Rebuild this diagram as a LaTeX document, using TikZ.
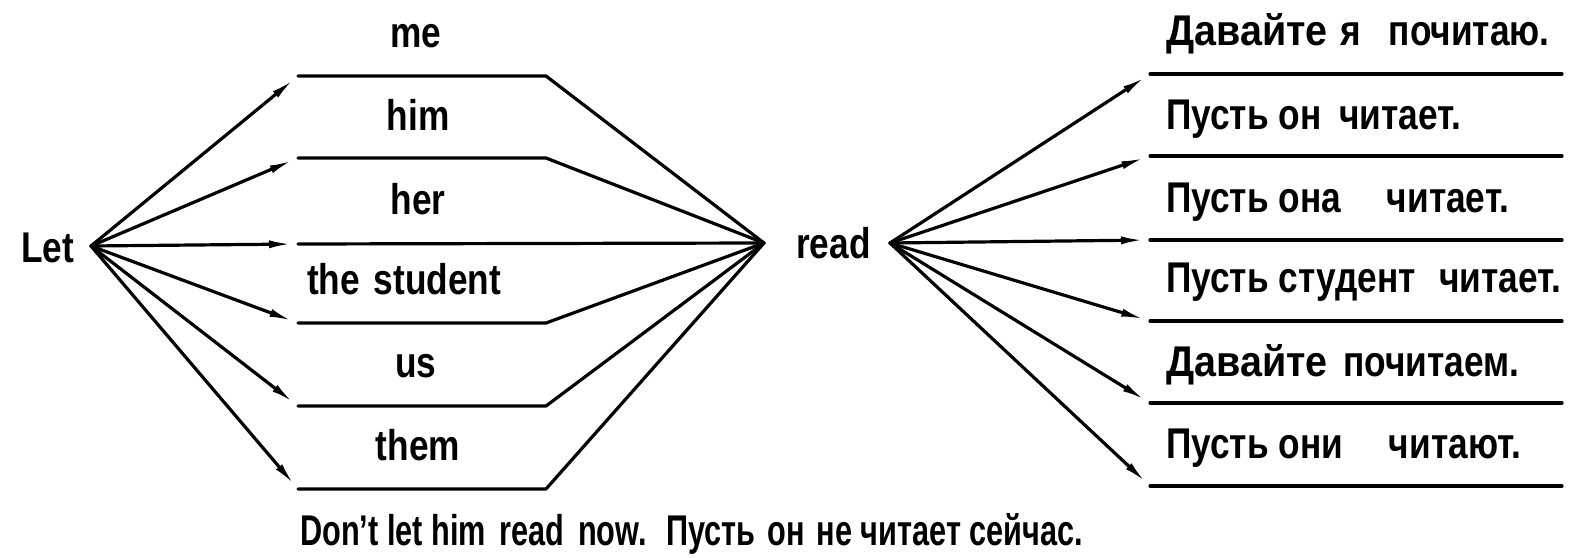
\documentclass[tikz,border=0pt]{standalone}
\usepackage{fontspec}
\setmainfont{Liberation Sans}[FakeStretch=0.82]
\usetikzlibrary{arrows.meta}
\newcommand{\wideword}[1]{\scalebox{1.12}[1]{#1}}
\begin{document}
\begin{tikzpicture}[x=1pt,y=-1pt,
  ln/.style={line width=3.2pt,line cap=round,line join=round},
  arr/.style={ln,-{Latex[length=24pt,width=8pt]},shorten >=5pt},
  lab/.style={font=\fontsize{43}{43}\selectfont\bfseries,inner sep=0pt,anchor=base},
  rlab/.style={lab,anchor=base west},
  blab/.style={font=\fontsize{43}{43}\selectfont\bfseries,inner sep=0pt,anchor=base west,xscale=0.87}]
\useasboundingbox (0,0) rectangle (1576,557);
% convergence points
\coordinate (L) at (91,246);
\coordinate (R) at (764,243);
\coordinate (P) at (890,243);
% texts
\node[rlab] (let) at (21,262) {Let};
\node[rlab] (read) at (796,258) {read};
% left group lines
\foreach \i/\y in {1/76,2/158,4/323,5/406,6/489}{
  \coordinate (a\i) at (298,\y);
  \coordinate (b\i) at (546,\y);
  \draw[ln] (a\i) -- (b\i) -- (R);
  \draw[arr] (L) -- (a\i);
}
\coordinate (a3) at (298,244);
\draw[ln] (a3) -- (R);
\draw[arr] (L) -- (a3);
% left labels
\node[lab] (me) at (416,47) {me};
\node[lab] (him) at (418,130) {him};
\node[lab] (her) at (418,214) {her};
\node[lab] (stud) at (404,294) {the\hspace{4pt} student};
\node[lab] (us) at (416,377) {us};
\node[lab] (them) at (418,460) {them};
% right group lines
\foreach \i/\y in {1/74,2/156,3/240,4/321,5/403,6/486}{
  \coordinate (c\i) at (1150,\y);
  \coordinate (d\i) at (1562,\y);
  \draw[ln] (c\i) -- (d\i);
  \draw[arr] (P) -- (c\i);
}
% right labels
\node[rlab] (r1) at (1166,45) {\wideword{Давайте}\hspace{3pt} я\hspace{18pt} почитаю.};
\node[rlab] (r2) at (1166,129) {Пусть он\hspace{8pt} читает.};
\node[rlab] (r3) at (1166,212) {Пусть она\hspace{36pt} читает.};
\node[rlab] (r4) at (1166,292) {Пусть студент\hspace{14pt} читает.};
\node[rlab] (r5) at (1166,376) {\wideword{Давайте}\hspace{6pt} почитаем.};
\node[rlab] (r6) at (1166,458) {Пусть они\hspace{36pt} читают.};
% bottom
\node[blab] (en) at (300,545) {Don’t let him\hspace{6pt} read\hspace{6pt} now.};
\node[blab] (ru) at (666,545) {Пусть\hspace{4pt} он\hspace{4pt} не читает сейчас.};
\end{tikzpicture}
\end{document}
